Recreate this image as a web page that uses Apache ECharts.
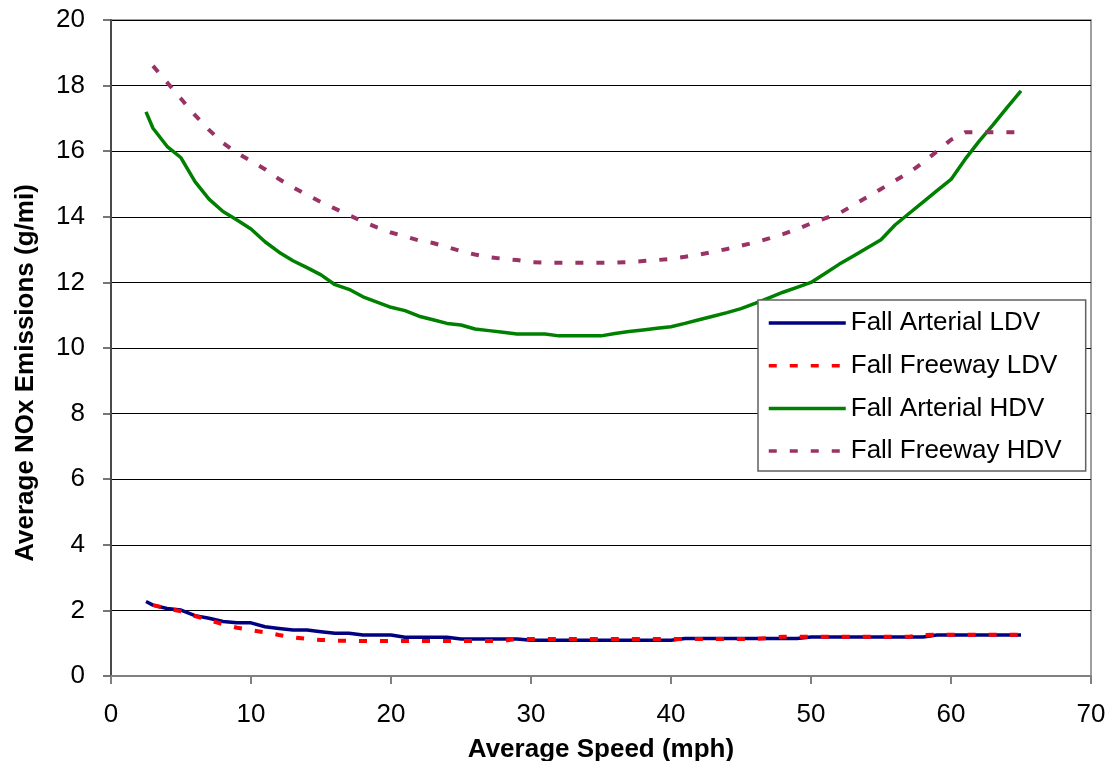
<!DOCTYPE html>
<html>
<head>
<meta charset="utf-8">
<script src="https://cdn.jsdelivr.net/npm/echarts@6/dist/echarts.min.js"></script>
<style>
html,body{margin:0;padding:0;background:#fff;}
#chart{width:1108px;height:761px;}
</style>
</head>
<body>
<div id="chart"></div>
<script>
// Speeds (mph)
const arterialSpeed = [2.5,3,4,5,6,7,8,9,10,11,12,13,14,15,16,17,18,19,20,21,22,23,24,25,26,27,28,29,30,31,32,33,34,35,36,37,38,39,40,41,42,43,44,45,46,47,48,49,50,51,52,53,54,55,56,57,58,59,60,61,62,63,64,65];
const freewaySpeed = [3,4,5,6,7,8,9,10,11,12,13,14,15,16,17,18,19,20,21,22,23,24,25,26,27,28,29,30,31,32,33,34,35,36,37,38,39,40,41,42,43,44,45,46,47,48,49,50,51,52,53,54,55,56,57,58,59,60,61,62,63,64,65];

// NOx emissions (g/mi)
const arterialLDV = [2.27,2.16,2.06,2.01,1.84,1.76,1.66,1.62,1.62,1.50,1.45,1.40,1.40,1.35,1.30,1.30,1.25,1.25,1.25,1.18,1.18,1.18,1.18,1.13,1.13,1.13,1.13,1.13,1.09,
  1.09,1.09,1.09,1.09,1.09,1.09,1.09,1.09,1.09,1.09,
  1.14,1.14,1.14,1.14,1.14,1.14,1.14,1.14,1.14,
  1.19,1.19,1.19,1.19,1.19,1.19,1.19,1.19,1.19,
  1.25,1.25,1.25,1.25,1.25,1.25,1.25];
const freewayLDV = [2.16,2.06,1.97,1.83,1.70,1.58,1.47,1.40,1.33,1.25,1.18,1.13,1.10,1.08,
  1.07,1.07,1.07,1.07,1.07,1.07,1.07,1.07,1.07,1.07,1.07,1.07,
  1.13,1.13,1.13,1.13,1.13,1.13,1.13,1.13,1.13,1.13,1.13,1.13,1.13,1.13,1.13,1.13,1.13,1.13,
  1.16,
  1.20,1.20,1.20,1.20,1.20,1.20,1.20,1.20,1.20,1.20,
  1.25,
  1.26,1.26,1.26,1.26,1.26,1.26,1.26];
const arterialHDV = [17.2,16.7,16.15,15.8,15.07,14.54,14.16,13.9,13.63,13.24,12.92,12.66,12.45,12.23,11.93,11.79,11.56,11.4,11.24,11.14,10.97,10.86,10.75,10.7,10.58,10.53,10.48,10.43,10.43,10.43,10.37,10.37,10.37,10.37,10.44,10.5,10.55,10.6,10.65,10.75,10.86,10.97,11.08,11.2,11.36,11.53,11.7,11.85,12.0,12.27,12.55,12.8,13.05,13.3,13.75,14.1,14.45,14.8,15.14,15.75,16.3,16.8,17.33,17.84];
const freewayHDV = [18.6,18.1,17.6,17.1,16.65,16.25,15.95,15.7,15.45,15.15,14.9,14.67,14.45,14.25,14.05,13.85,13.68,13.52,13.4,13.28,13.2,13.08,12.95,12.85,12.77,12.72,12.68,12.62,12.6,12.6,12.6,12.6,12.6,12.6,12.62,12.65,12.68,12.72,12.78,12.85,12.93,13.02,13.12,13.22,13.34,13.47,13.62,13.8,13.95,14.1,14.35,14.6,14.85,15.1,15.35,15.65,16.0,16.35,16.58,16.58,16.58,16.58,16.58];

const seriesNames = ['Fall Arterial LDV','Fall Freeway LDV','Fall Arterial HDV','Fall Freeway HDV'];
const xTicks = [0,10,20,30,40,50,60,70];
const yTicks = [0,2,4,6,8,10,12,14,16,18,20];

function pairs(xs, ys){ return xs.map((x,i)=>[x, ys[i]]); }

const FONT = "'Liberation Sans', Arial, sans-serif";
const chart = echarts.init(document.getElementById('chart'));
chart.setOption({
  animation: false,
  backgroundColor: '#fff',
  grid: { left: 111, right: 17, top: 20, bottom: 85, show: true, borderColor: '#808080', borderWidth: 1.5,
          containLabel: false, outerBoundsMode: 'none' },
  xAxis: {
    type: 'value', min: xTicks[0], max: xTicks[xTicks.length-1], interval: 10,
    name: 'Average Speed (mph)', nameLocation: 'middle', nameGap: 61,
    nameTextStyle: { fontFamily: FONT, fontSize: 26, fontWeight: 'bold', color: '#000' },
    axisLine: { show: true, lineStyle: { color: '#808080', width: 2 } },
    axisTick: { show: true, inside: false, length: 8, lineStyle: { color: '#808080', width: 2 } },
    axisLabel: { fontFamily: FONT, fontSize: 26, color: '#000', margin: 26 },
    splitLine: { show: false }
  },
  yAxis: {
    type: 'value', min: yTicks[0], max: yTicks[yTicks.length-1], interval: 2,
    name: 'Average NOx Emissions (g/mi)', nameLocation: 'middle', nameGap: 72,
    nameTextStyle: { fontFamily: FONT, fontSize: 26, fontWeight: 'bold', color: '#000', padding: [0, 50, 0, 0] },
    axisLine: { show: true, lineStyle: { color: '#4a4a4a', width: 2 } },
    axisTick: { show: true, inside: false, length: 8, lineStyle: { color: '#4a4a4a', width: 1.5 } },
    axisLabel: { fontFamily: FONT, fontSize: 26, color: '#000', margin: 26 },
    splitLine: { show: true, lineStyle: { color: '#000', width: 1 } }
  },
  legend: {
    orient: 'vertical', left: 758, top: 300,
    data: seriesNames,
    backgroundColor: '#fff', borderColor: '#606060', borderWidth: 1.5,
    padding: [8, 24, 5, 9],
    itemWidth: 77, itemHeight: 30, itemGap: 12.7,
    itemStyle: { opacity: 0 },
    lineStyle: { width: 3.5 },
    textStyle: { fontFamily: FONT, fontSize: 26, color: '#000', lineHeight: 30 }
  },
  series: [
    { name: seriesNames[0], type: 'line', data: pairs(arterialSpeed, arterialLDV), showSymbol: false, symbol: 'none',
      lineStyle: { color: '#000080', width: 3.5, type: 'solid' }, itemStyle: { color: '#000080' } },
    { name: seriesNames[1], type: 'line', data: pairs(freewaySpeed, freewayLDV), showSymbol: false, symbol: 'none',
      lineStyle: { color: '#FF0000', width: 4, type: [8, 13] }, itemStyle: { color: '#FF0000' } },
    { name: seriesNames[2], type: 'line', data: pairs(arterialSpeed, arterialHDV), showSymbol: false, symbol: 'none',
      lineStyle: { color: '#008000', width: 3.5, type: 'solid' }, itemStyle: { color: '#008000' } },
    { name: seriesNames[3], type: 'line', data: pairs(freewaySpeed, freewayHDV), showSymbol: false, symbol: 'none',
      lineStyle: { color: '#993366', width: 4, type: [8, 13] }, itemStyle: { color: '#993366' } }
  ]
});
</script>
</body>
</html>
